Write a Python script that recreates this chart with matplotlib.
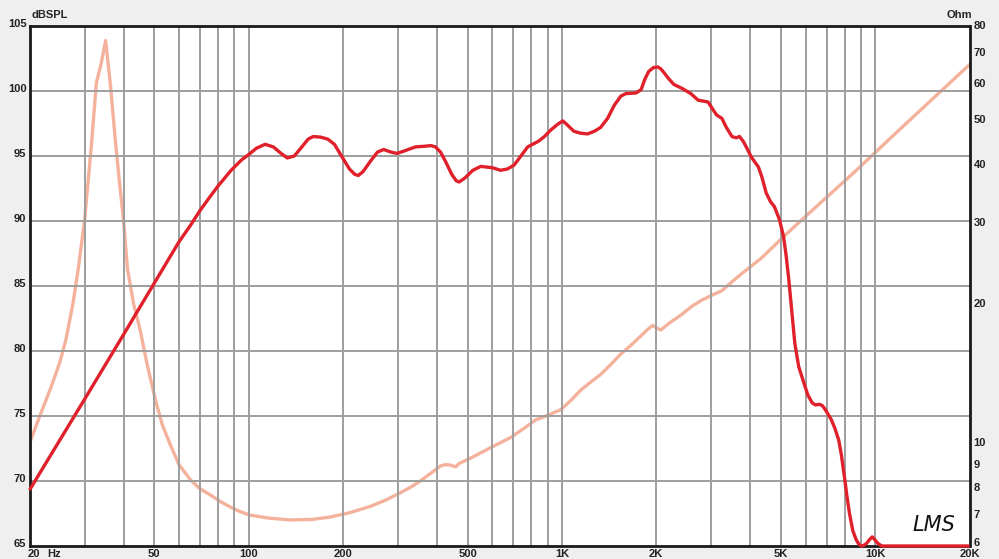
import numpy as np
import matplotlib
matplotlib.use("Agg")
import matplotlib.pyplot as plt
from matplotlib.ticker import NullLocator, NullFormatter

# SPL response (dB) vs frequency (Hz)
spl_freq = [20, 30, 40, 50, 60, 65, 70, 75, 80, 88, 95, 100, 106, 113, 120, 127, 133, 140, 148,
            155, 161, 170, 179, 188, 198, 210, 218, 224, 232, 245, 258, 270, 285, 298, 315, 341,
            365, 382, 395, 410, 425, 445, 460, 470, 490, 520, 551, 600, 637, 670, 704, 740, 778,
            844, 880, 922, 965, 1007, 1040, 1093, 1150, 1208, 1270, 1330, 1400, 1470, 1542, 1600,
            1725, 1790, 1840, 1893, 1960, 2025, 2070, 2120, 2200, 2280, 2420, 2580, 2720, 2930,
            3030, 3120, 3240, 3350, 3490, 3600, 3690, 3800, 4030, 4240, 4360, 4490, 4630, 4770,
            4950, 5100, 5200, 5300, 5420, 5540, 5700, 5930, 6100, 6300, 6450, 6640, 6780, 6880,
            7050, 7250, 7450, 7650, 7800, 8000, 8140, 8280, 8480, 8690, 8860, 9030, 9200, 9390,
            9600, 9780, 10000, 10200, 10500, 20000]
spl_db = [69.3, 76.3, 81.3, 85.2, 88.4, 89.6, 90.8, 91.8, 92.7, 93.9, 94.7, 95.1, 95.6, 95.9,
          95.7, 95.2, 94.85, 95.0, 95.7, 96.3, 96.5, 96.45, 96.3, 95.9, 95.0, 94.0, 93.6, 93.5,
          93.8, 94.6, 95.3, 95.5, 95.3, 95.2, 95.4, 95.7, 95.75, 95.8, 95.7, 95.3, 94.6, 93.6,
          93.1, 93.0, 93.3, 93.9, 94.2, 94.1, 93.9, 94.0, 94.3, 95.0, 95.7, 96.15, 96.5, 97.0,
          97.4, 97.7, 97.4, 96.9, 96.75, 96.7, 96.9, 97.2, 97.9, 98.9, 99.6, 99.8, 99.85, 100.1,
          100.9, 101.5, 101.8, 101.85, 101.7, 101.4, 100.9, 100.5, 100.2, 99.8, 99.3, 99.15,
          98.6, 98.15, 97.9, 97.2, 96.5, 96.4, 96.5, 96.1, 94.9, 94.15, 93.3, 92.15, 91.5, 91.1,
          90.1, 88.8, 87.3, 85.5, 83.0, 80.6, 78.8, 77.5, 76.6, 76.0, 75.85, 75.9, 75.8, 75.6,
          75.2, 74.7, 74.0, 73.15, 72.0, 70.1, 68.7, 67.5, 66.2, 65.5, 65.15, 65.0, 65.05, 65.2,
          65.5, 65.7, 65.45, 65.2, 65.0, 65.0]

# Impedance (Ohm) vs frequency (Hz)
imp_freq = [20, 21.5, 23.3, 25, 26.1, 27.5, 28.6, 30, 31.5, 32.7, 33.8, 35.0, 36.3, 37.5, 38.7,
            39.9, 41.1, 43, 45.1, 47.5, 50.5, 53, 56.4, 60, 65.3, 70, 75.7, 81, 87.6, 94, 101,
            115, 136, 160, 182, 210, 245, 275, 305, 330, 354, 380, 410, 425, 440, 458, 470, 512,
            594, 686, 760, 826, 900, 993, 1070, 1150, 1240, 1330, 1430, 1540, 1660, 1790, 1870,
            1950, 2000, 2070, 2200, 2410, 2600, 2790, 3000, 3240, 3500, 3720, 4340, 5100, 5840,
            8430, 12100, 20000]
imp_ohm = [10.0, 11.4, 13.1, 15.0, 16.7, 20.0, 23.8, 30.5, 44.0, 60.3, 66.0, 74.4, 59.1, 46.0,
           37.0, 30.5, 23.8, 20.0, 17.6, 14.8, 12.4, 11.0, 9.9, 9.0, 8.34, 7.98, 7.73, 7.5, 7.28,
           7.12, 7.0, 6.9, 6.83, 6.85, 6.93, 7.08, 7.31, 7.55, 7.82, 8.05, 8.3, 8.6, 8.94, 9.0,
           8.98, 8.9, 9.05, 9.3, 9.8, 10.3, 10.8, 11.25, 11.5, 11.84, 12.4, 13.05, 13.6, 14.1,
           14.8, 15.6, 16.3, 17.1, 17.6, 18.0, 17.8, 17.6, 18.2, 19.0, 19.8, 20.4, 20.9, 21.4,
           22.4, 23.2, 25.2, 28.0, 30.5, 38.2, 48.1, 66.0]

x_grid = [30, 40, 50, 60, 70, 80, 90, 100, 200, 300, 400, 500, 600, 700, 800, 900, 1000,
          2000, 3000, 4000, 5000, 6000, 7000, 8000, 9000, 10000]
x_labels = {50: "50", 100: "100", 200: "200", 500: "500", 1000: "1K",
            2000: "2K", 5000: "5K", 10000: "10K", 20000: "20K"}
db_ticks = [65, 70, 75, 80, 85, 90, 95, 100, 105]
ohm_ticks = [6, 7, 8, 9, 10, 20, 30, 40, 50, 60, 70, 80]

W, H = 999, 559
fig = plt.figure(figsize=(W / 100, H / 100), dpi=100)
fig.patch.set_facecolor("#efefef")
L, R, T, B = 29.5, 969.5, 26, 546
ax = fig.add_axes([L / W, 1 - B / H, (R - L) / W, (B - T) / H])
ax.set_xscale("log")
ax.set_xlim(20, 20000)
ax.set_ylim(65, 105)

grid_c = "#9e9e9e"
for f in x_grid:
    ax.axvline(f, color=grid_c, lw=1.4, zorder=1)
for d in db_ticks[1:-1]:
    ax.axhline(d, color=grid_c, lw=1.4, zorder=1)

ax.xaxis.set_major_locator(NullLocator())
ax.xaxis.set_minor_locator(NullLocator())
ax.yaxis.set_major_locator(NullLocator())
ax.tick_params(length=0)
for s in ax.spines.values():
    s.set_linewidth(2.0)
    s.set_color("#1a1a1a")

ax2 = ax.twinx()
ax2.set_yscale("log")
ax2.set_ylim(6, 80)
ax2.yaxis.set_major_locator(NullLocator())
ax2.yaxis.set_minor_locator(NullLocator())
ax2.yaxis.set_minor_formatter(NullFormatter())
for s in ax2.spines.values():
    s.set_visible(False)

ax2.plot(imp_freq, imp_ohm, color="#f4b29c", lw=2.4, zorder=3, solid_joinstyle="round",
         solid_capstyle="round")
ax.plot(spl_freq, spl_db, color="#e0202a", lw=2.4, zorder=4, clip_on=False,
        solid_joinstyle="round", solid_capstyle="butt")
ax.set_zorder(ax2.get_zorder() + 1)
ax.patch.set_visible(False)
ax2.patch.set_visible(True)
ax2.set_facecolor("white")

tfont = dict(fontsize=8, fontweight="bold", color="#222222", family="Liberation Sans")

# left labels
for d in db_ticks:
    yp = B - (d - 65) / 40 * (B - T) - 2
    fig.text((L - 3) / W, 1 - yp / H, str(d), ha="right", va="center", **tfont)
# right labels
for o in ohm_ticks:
    yp = B - np.log10(o / 6) / np.log10(80 / 6) * (B - T)
    if o == 6:
        yp -= 3
    fig.text((R + 4) / W, 1 - yp / H, str(o), ha="left", va="center", **tfont)
# x labels
XY = 1 - 554 / H
fig.text(28 / W, XY, "20", ha="left", va="center", **tfont)
fig.text(47 / W, XY, "Hz", ha="left", va="center", **tfont)
for f, lab in x_labels.items():
    xp = L + np.log10(f / 20) / 3 * (R - L)
    fig.text(xp / W, XY, lab, ha="center", va="center", **tfont)

fig.text(32 / W, 1 - 15 / H, "dBSPL", ha="left", va="center", **tfont)
fig.text(972 / W, 1 - 15 / H, "Ohm", ha="right", va="center", **tfont)
fig.text(934 / W, 1 - 525 / H, "LMS", ha="center", va="center", fontsize=15,
         fontstyle="italic", color="#111111", family="DejaVu Sans")

fig.savefig("out.png", dpi=100, facecolor=fig.get_facecolor())
